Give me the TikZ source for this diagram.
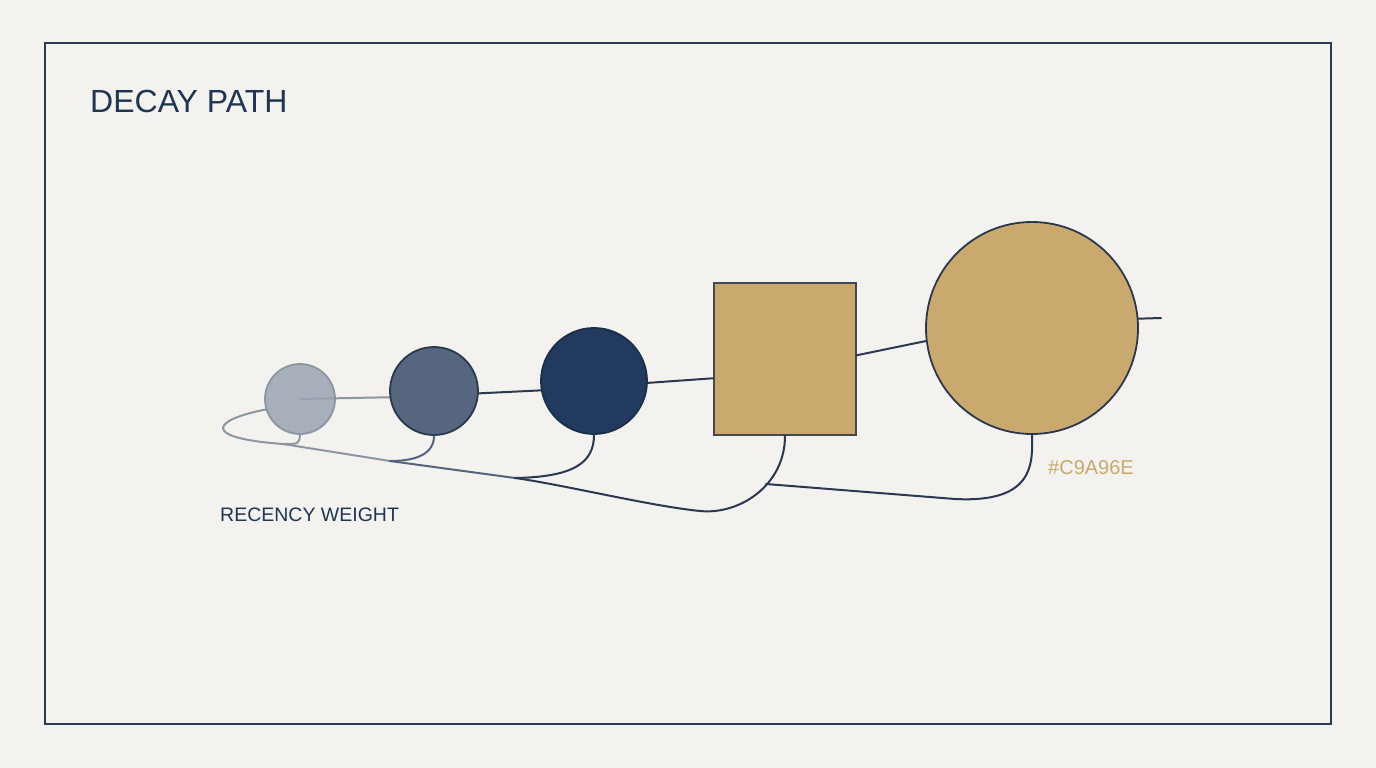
\documentclass[tikz,border=0pt]{standalone}
\usepackage{fontspec}
\setmainfont{Liberation Sans}
\usepackage{xcolor}
\usetikzlibrary{backgrounds}

\definecolor{paper}{HTML}{F3F2EE}
\definecolor{ink}{HTML}{1F3552}
\definecolor{frame}{HTML}{2B3A52}
\definecolor{fadegrey}{HTML}{9AA4B1}
\definecolor{fadeline}{HTML}{8C96A3}
\definecolor{slate}{HTML}{56667F}
\definecolor{slateline}{HTML}{55647C}
\definecolor{deepnavy}{HTML}{223A5E}
\definecolor{navyline}{HTML}{2A3850}
\definecolor{gold}{HTML}{C9A96E}

\tikzset{
  dot/.style={circle, inner sep=0pt, line width=1.8pt},
  link/.style={line width=2pt, line cap=round}
}

\begin{document}
\begin{tikzpicture}[x=1pt, y=-1pt]
            \useasboundingbox (0,0) rectangle (1376,768);
            \draw[frame, line width=1.8pt] (45,43) rectangle (1331,724);

            \node[anchor=base west, text=ink, inner sep=0pt, font=\fontsize{32}{38}\selectfont] (title) at (90,112) {DECAY PATH};
            \node[anchor=base west, text=ink, inner sep=0pt, font=\fontsize{19.5}{24}\selectfont] (weight) at (220,521) {RECENCY WEIGHT};
            \node[anchor=base west, text=gold, inner sep=0pt, font=\fontsize{20}{24}\selectfont] (hex) at (1048,474) {\#C9A96E};

            % decay steps
            \node[dot, minimum size=70pt, fill=fadegrey, fill opacity=0.85, draw=fadeline] (c1) at (300,399) {};
            \node[dot, minimum size=88pt, fill=slate, draw=navyline] (c2) at (434,391) {};
            \node[dot, minimum size=106pt, fill=deepnavy, draw=deepnavy!80!black] (c3) at (594,381) {};
            \node[rectangle, minimum width=142pt, minimum height=152pt, inner sep=0pt, line width=1.8pt, fill=gold, draw=navyline!85!gold] (sq) at (785,359) {};
            \node[dot, minimum size=212pt, fill=gold, draw=navyline] (c5) at (1032,328) {};

            \coordinate (j1) at (283,444);
            \coordinate (j2) at (390,461);
            \coordinate (j3) at (515,478);
            \coordinate (low) at (700,511);
            \coordinate (fork) at (766,484);
            \coordinate (tail) at (1161,318);

            \begin{scope}[on background layer]
              \fill[paper] (0,0) rectangle (1376,768);
              \draw[link, fadeline] (c1.center) -- (c2.188);
            \end{scope}

            % upper path
            \draw[link, navyline] (c2.-3) -- (c3.190);
            \draw[link, navyline] (c3.-2) -- (sq.195);
            \draw[link, navyline] (sq.3) -- (c5.187);
            \draw[link, navyline] (c5.5) -- (tail);

            % lower path
            \draw[link, fadeline] (c1.197) .. controls (212,420) and (200,438) .. (j1) -- (j2);
            \draw[link, fadeline] (c1.south) .. controls (299,444) .. (j1);
            \draw[link, slateline] (j2) -- (j3);
            \draw[link, slateline] (c2.south) .. controls (434,453) and (418,461) .. (j2);
            \draw[link, navyline] (c3.south) .. controls (594,462) and (575,477) .. (j3);
            \draw[link, navyline] (j3) .. controls (565,485) and (650,506) .. (low) .. controls (740,515) and (785,485) .. (sq.south);
            \draw[link, navyline] (fork) -- (955,499) .. controls (1033,503) and (1033,465) .. (c5.south);
        \end{tikzpicture}
\end{document}
